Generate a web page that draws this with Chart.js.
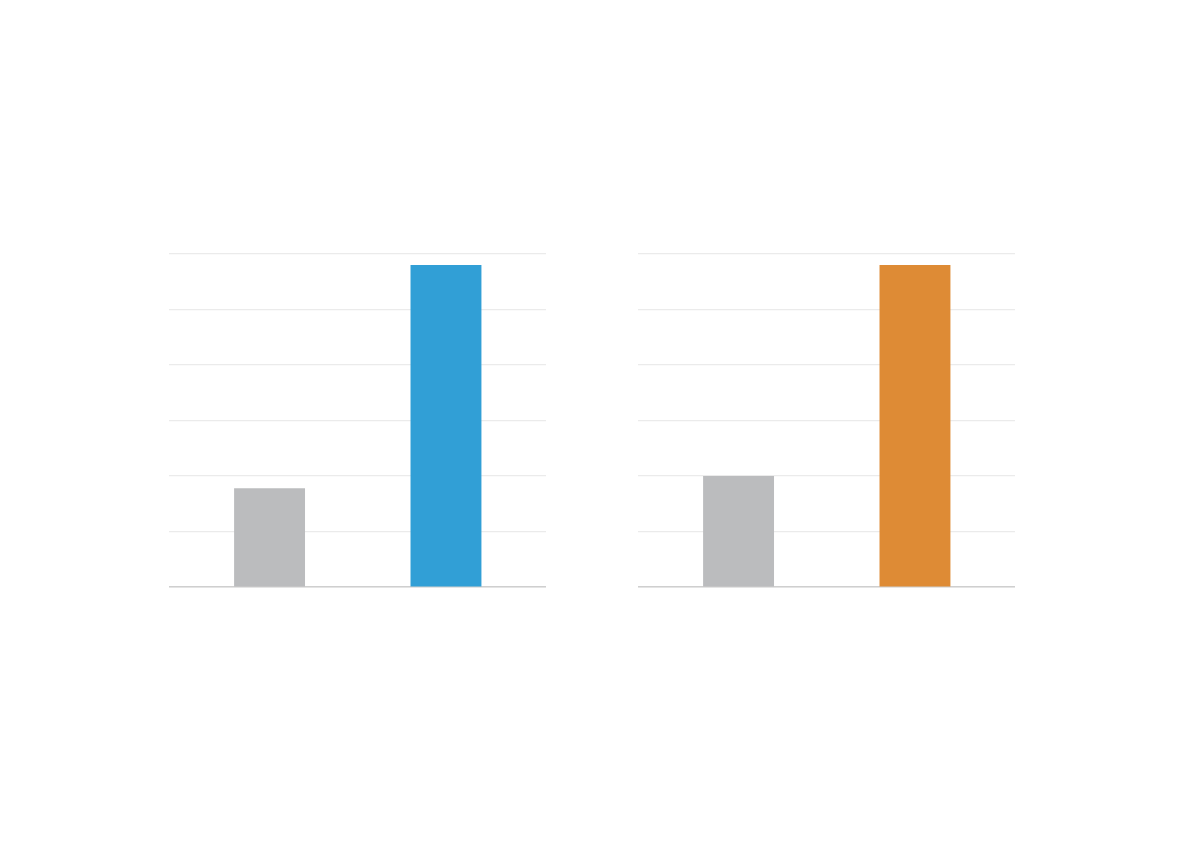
<!DOCTYPE html>
<html>
<head>
<meta charset="utf-8">
<script src="https://cdn.jsdelivr.net/npm/chart.js@4/dist/chart.umd.min.js"></script>
<style>
  html, body { margin: 0; padding: 0; background: #fff; }
  body { width: 1184px; height: 864px; position: relative; overflow: hidden; }
  .box { position: absolute; top: 249px; width: 377px; height: 343px; }
  #left { left: 169px; }
  #right { left: 638px; }
</style>
</head>
<body>
<div class="box" id="left"><canvas id="leftChart"></canvas></div>
<div class="box" id="right"><canvas id="rightChart"></canvas></div>
<script>
// data
const categories = ["A", "B"];
const leftValues = [1.78, 5.8];
const rightValues = [2.0, 5.8];
const yTicks = [0, 1, 2, 3, 4, 5, 6];

const leftColors = ["#bbbcbe", "#319fd6"];
const rightColors = ["#bbbcbe", "#de8b35"];

// bars sit a bit inward from the category centres, so use a linear x axis
function makeConfig(values, colors) {
  return {
    type: "bar",
    data: {
      datasets: [
        {
          data: categories.map((c, i) => ({ x: i + 1, y: values[i] })),
          backgroundColor: colors,
          borderWidth: 0,
          categoryPercentage: 1,
          barPercentage: 0.402,
        },
      ],
    },
    options: {
      responsive: true,
      maintainAspectRatio: false,
      animation: false,
      layout: {
        padding: { top: 5, bottom: 5, left: 0, right: 0 },
      },
      scales: {
        x: {
          type: "linear",
          offset: false,
          min: 0.43,
          max: 2.567,
          afterBuildTicks: (axis) => {
            // one tick per bar so the bar width follows the bar spacing
            axis.ticks = categories.map((c, i) => ({ value: i + 1 }));
          },
          ticks: { display: false },
          grid: { display: false, drawTicks: false, offset: false },
          border: { color: "#cfcfcf", width: 1.5 },
        },
        y: {
          min: yTicks[0],
          max: yTicks[yTicks.length - 1],
          afterBuildTicks: (axis) => {
            axis.ticks = yTicks.map((v) => ({ value: v }));
          },
          ticks: { display: false },
          grid: { color: "#ebebeb", drawTicks: false, lineWidth: 1.2 },
          border: { display: false },
        },
      },
      plugins: {
        legend: { display: false },
        tooltip: { enabled: false },
      },
    },
  };
}

const leftChart = new Chart(
  document.getElementById("leftChart"),
  makeConfig(leftValues, leftColors)
);

const rightChart = new Chart(
  document.getElementById("rightChart"),
  makeConfig(rightValues, rightColors)
);
</script>
</body>
</html>
